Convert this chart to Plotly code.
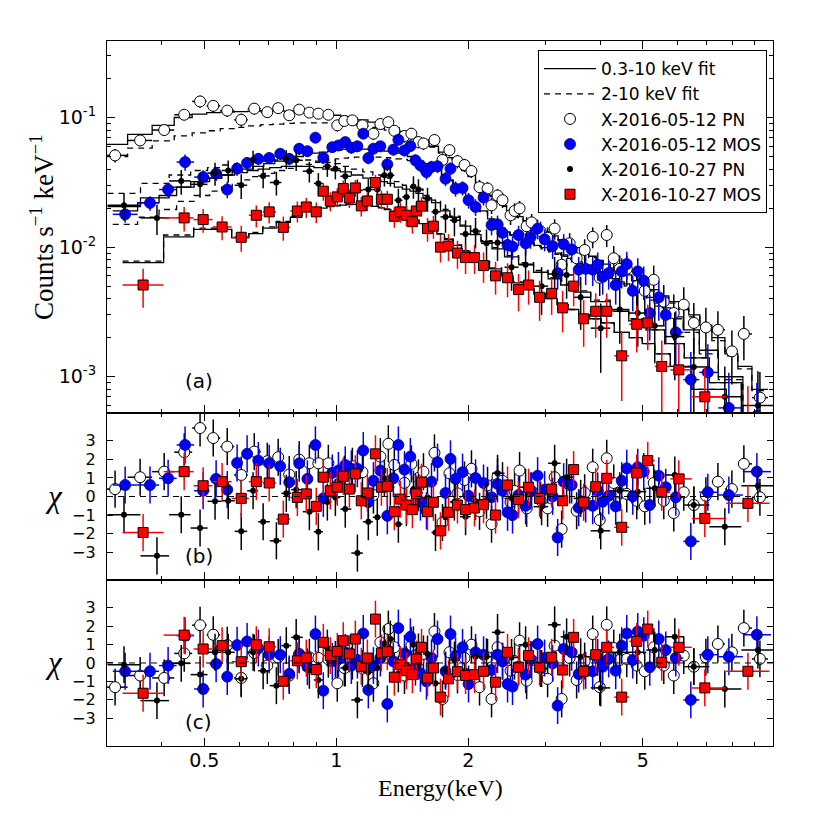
import numpy as np
import plotly.graph_objects as go
from plotly.subplots import make_subplots

# ---------------- data ----------------
# X-2016-05-12 PN (open circles)
pn05_E = [0.313,0.357,0.405,0.450,0.489,0.524,0.564,0.607,0.650,0.696,0.737,0.781,0.823,0.868,0.910,0.959,1.005,1.043,1.088,1.147,
          1.215,1.260,1.314,1.356,1.430,1.483,1.539,1.580,1.674,1.746,1.811,1.889,1.960,2.033,2.121,2.212,2.259,2.331,2.393,2.496,
          2.549,2.617,2.716,2.788,2.923,3.032,3.146,3.264,3.404,3.531,3.683,3.842,3.986,4.135,4.290,4.428,4.594,4.841,5.049,5.293,
          5.579,5.880,6.197,6.533,6.960,7.413,7.978,8.496,9.243]
pn05_F = [0.051,0.0665,0.080,0.105,0.133,0.123,0.113,0.096,0.117,0.110,0.118,0.104,0.115,0.109,0.107,0.105,0.087,0.094,0.095,0.087,
          0.075,0.089,0.092,0.079,0.072,0.075,0.0646,0.063,0.067,0.047,0.056,0.046,0.043,0.0386,0.029,0.0283,0.021,0.025,0.023,0.0176,
          0.0190,0.0199,0.0145,0.0155,0.0132,0.0118,0.0139,0.0073,0.0107,0.0082,0.0095,0.012,0.0058,0.0124,0.0082,0.0068,0.0068,0.0050,0.0046,0.0056,
          0.0038,0.0031,0.0036,0.0026,0.0024,0.0023,0.00157,0.00214,0.00069]
pn05_dF = [0.006,0.0065,0.007,0.010,0.014,0.013,0.012,0.011,0.012,0.011,0.011,0.010,0.010,0.010,0.010,0.010,0.009,0.009,0.009,0.009,
           0.008,0.009,0.009,0.008,0.008,0.008,0.007,0.007,0.007,0.006,0.006,0.0055,0.005,0.0045,0.004,0.0035,0.003,0.003,0.003,0.0028,
           0.0028,0.0028,0.0025,0.0025,0.0025,0.0024,0.0025,0.0019,0.0021,0.0019,0.0020,0.0022,0.0016,0.0024,0.0020,0.0018,0.0018,0.0015,0.0015,0.0016,
           0.0013,0.0012,0.0013,0.0011,0.0010,0.0009,0.0007,0.0008,0.0004]
pn05_M1 = [0.062,0.074,0.087,0.100,0.106,0.109,0.110,0.111,0.112,0.113,0.113,0.112,0.111,0.110,0.108,0.106,0.104,0.102,0.099,0.096,
           0.092,0.089,0.086,0.083,0.078,0.074,0.070,0.067,0.060,0.054,0.049,0.044,0.040,0.036,0.031,0.027,0.025,0.023,0.021,0.0190,
           0.0182,0.0172,0.0160,0.0152,0.0140,0.0131,0.0122,0.0114,0.0106,0.0099,0.0092,0.0085,0.0079,0.0074,0.0069,0.0065,0.0061,0.0055,0.0051,0.0047,
           0.0042,0.0038,0.0034,0.0030,0.0025,0.0020,0.0015,0.0012,0.0008]
pn05_M2 = [0.050,0.058,0.066,0.072,0.076,0.079,0.082,0.084,0.086,0.088,0.089,0.090,0.091,0.091,0.091,0.091,0.090,0.089,0.088,0.086,
           0.084,0.082,0.080,0.078,0.075,0.072,0.069,0.066,0.059,0.053,0.048,0.043,0.039,0.035,0.030,0.0265,0.0245,0.0225,0.0206,0.0186,
           0.0178,0.0169,0.0157,0.0149,0.0137,0.0128,0.0120,0.0112,0.0104,0.0097,0.0090,0.0083,0.0078,0.0073,0.0068,0.0064,0.0060,0.0054,0.0050,0.0046,
           0.0041,0.0037,0.0033,0.0029,0.0024,0.0019,0.00145,0.00115,0.00078]
pn05_Rb = [0.4,1.04,1.34,2.39,3.69,3.15,2.69,1.16,2.42,1.9,2.12,1.18,1.99,1.79,1.79,1.79,0.6,1.2,1.63,1.31,
           0.08,2.15,2.84,1.7,0.73,1.76,1.0,1.34,2.35,-1.4,1.25,0.17,0.89,1.49,-0.8,0.6,-1.49,1.07,0.85,-0.3,
           0.3,1.4,-0.64,0.3,-0.2,-0.64,1.04,-1.76,0.62,-0.77,0.2,1.58,-1.27,2.06,0.73,0.2,0.14,-0.23,-0.53,0.73,
           -0.23,-0.89,0.23,-0.46,0.04,0.8,0.4,1.76,-0.04]
pn05_Rc = [-1.31,-0.68,-0.81,0.52,2.05,1.53,0.97,-0.81,0.54,-0.14,0.3,-0.68,0.49,0.31,0.27,0.2,-1.1,-0.27,0.1,-0.3,
           -1.1,1.12,1.84,0.85,-0.68,0.94,0.1,0.49,1.71,-1.95,0.58,-0.65,0.27,0.99,-1.31,0.3,-1.95,0.85,0.1,-0.42,
           0.1,1.21,-0.96,0.16,-0.3,-0.86,0.94,-1.95,0.27,-0.92,0.1,1.57,-1.31,2.07,0.81,0.16,0.22,-0.14,-0.45,0.85,
           -0.14,-0.68,0.4,-0.2,0.31,1.03,0.58,1.89,0.22]

# X-2016-05-12 MOS (blue circles)
mos05_E = [0.330,0.376,0.4135,0.452,0.497,0.532,0.564,0.594,0.626,0.664,0.703,0.745,0.781,0.823,0.859,0.896,0.934,0.979,1.011,1.048,
           1.082,1.117,1.152,1.183,1.215,1.260,1.307,1.349,1.385,1.430,1.475,1.515,1.555,1.605,1.648,1.701,1.774,1.821,1.870,1.940,
           2.002,2.077,2.166,2.259,2.331,2.393,2.457,2.522,2.603,2.701,2.773,2.877,2.985,3.113,3.196,3.299,3.440,3.569,3.703,3.842,
           3.944,4.049,4.178,4.335,4.474,4.594,4.741,4.867,5.023,5.184,5.435,5.638,5.943,6.431,7.031,7.852,9.097]
mos05_F = [0.0179,0.0219,0.0278,0.0453,0.0347,0.0369,0.0278,0.0403,0.0446,0.0480,0.0487,0.0525,0.0480,0.0574,0.0550,0.0699,0.0490,0.0590,0.0609,0.0646,
           0.0585,0.0600,0.0750,0.0487,0.0574,0.0600,0.0435,0.0565,0.0673,0.0557,0.0602,0.0467,0.0427,0.0379,0.0415,0.0420,0.0337,0.0403,0.0283,0.0286,
           0.0230,0.0204,0.0241,0.0148,0.0150,0.0129,0.0104,0.0101,0.0124,0.0107,0.0119,0.0139,0.0115,0.0102,0.0063,0.0105,0.0096,0.0067,0.0068,0.0067,
           0.0073,0.0059,0.0063,0.0051,0.0065,0.0074,0.0046,0.0065,0.0055,0.0031,0.0041,0.0030,0.0022,0.00095,0.00108,0.000575,0.00050]
mos05_dF = [0.0025,0.0028,0.0035,0.0065,0.0045,0.0045,0.0040,0.0048,0.0050,0.0052,0.0052,0.0055,0.0052,0.0058,0.0056,0.0068,0.0052,0.0058,0.0060,0.0062,
            0.0058,0.0060,0.0070,0.0052,0.0058,0.0060,0.0050,0.0058,0.0065,0.0057,0.0060,0.0052,0.0050,0.0047,0.0048,0.0048,0.0042,0.0046,0.0038,0.0036,
            0.0032,0.0030,0.0032,0.0025,0.0025,0.0023,0.0021,0.0021,0.0022,0.0021,0.0022,0.0024,0.0022,0.0021,0.0016,0.0021,0.0020,0.0017,0.0017,0.0017,
            0.0018,0.0016,0.0016,0.0015,0.0017,0.0018,0.0014,0.0017,0.0016,0.0012,0.0014,0.0012,0.0010,0.0006,0.0007,0.0005,0.0004]
mos05_M1 = [0.019,0.022,0.025,0.029,0.032,0.034,0.036,0.038,0.040,0.042,0.044,0.046,0.048,0.050,0.052,0.053,0.054,0.055,0.056,0.057,
            0.057,0.057,0.057,0.057,0.057,0.056,0.055,0.054,0.053,0.052,0.050,0.048,0.046,0.044,0.042,0.040,0.036,0.033,0.030,0.027,
            0.024,0.021,0.019,0.0165,0.0150,0.0140,0.0131,0.0125,0.0118,0.0112,0.0108,0.0103,0.0099,0.0094,0.0090,0.0087,0.0082,0.0077,0.0073,0.0069,
            0.0066,0.0063,0.0060,0.0057,0.0054,0.0052,0.0049,0.0047,0.0044,0.0041,0.0037,0.0034,0.0029,0.0023,0.0016,0.0010,0.00045]
mos05_M2 = [0.0150,0.0170,0.0195,0.0225,0.0250,0.0270,0.0290,0.0310,0.0330,0.0350,0.0370,0.0390,0.0405,0.0420,0.0435,0.0450,0.0460,0.0470,0.0480,0.0485,
            0.0490,0.0495,0.0495,0.0495,0.0495,0.0495,0.0490,0.0485,0.0480,0.0475,0.0465,0.0455,0.0440,0.0425,0.0410,0.0395,0.0355,0.0325,0.0297,0.0267,
            0.0238,0.0208,0.0188,0.0163,0.0148,0.0138,0.0129,0.0123,0.0116,0.0110,0.0106,0.0101,0.0097,0.0092,0.0088,0.0085,0.0080,0.0075,0.0071,0.0067,
            0.0064,0.0061,0.0058,0.0055,0.0052,0.0050,0.0047,0.0045,0.0042,0.0039,0.0035,0.0032,0.0028,0.0022,0.0015,0.00095,0.00043]
mos05_Rb = [0.62,0.62,0.98,2.78,0.31,0.95,0.37,1.81,2.3,1.94,1.79,1.63,0.77,1.79,0.95,2.78,-0.1,1.27,1.4,1.7,
            1.49,1.5,2.48,-0.3,0.85,1.4,-1.04,0.98,2.78,1.45,2.15,0.23,-0.3,-0.77,0.8,1.85,0.19,2.03,0.95,1.31,
            0.04,1.0,0.73,-0.04,0.68,0.31,-0.85,-1.0,0.08,-0.5,0.3,1.12,0.37,0.01,-2.21,0.8,0.62,-0.6,-0.4,-0.5,
            0.3,-0.28,0.04,-0.53,0.85,1.52,0.01,1.58,1.34,-0.46,1.12,0.5,-0.04,-2.42,0.23,0.08,1.34]
mos05_Rc = [-0.45,-0.45,-0.14,1.48,-1.41,-0.05,-0.74,0.97,1.17,0.81,0.45,0.45,-0.59,0.45,-0.2,1.57,-1.5,0.09,0.22,0.58,
            -0.14,0.16,1.6,-1.46,-0.14,0.27,-2.22,0.09,1.89,0.52,1.42,-0.23,-0.56,-0.99,0.27,1.3,-0.45,1.57,0.4,0.85,
            -1.14,0.58,0.45,-0.38,0.45,0.09,-1.14,-1.28,-0.2,-0.63,0.2,1.03,0.27,-0.02,-2.31,0.76,0.58,-0.6,-0.4,-0.45,
            0.3,-0.2,0.22,-0.42,0.94,1.6,0.16,1.71,1.48,-0.23,1.3,0.7,0.27,-2.0,0.45,0.34,1.53]

# X-2016-10-27 PN (small black dots)
pn10_E = [0.328,0.390,0.443,0.489,0.529,0.567,0.607,0.646,0.681,0.730,0.769,0.810,0.868,0.910,0.954,0.995,1.048,1.117,1.183,1.240,
          1.287,1.328,1.385,1.445,1.499,1.539,1.614,1.683,1.774,1.859,1.971,2.077,2.200,2.331,2.509,2.701,2.938,3.146,3.350,3.607,
          4.007,4.428,4.867,5.321,5.912,6.533,7.688,9.146]
pn10_F = [0.0210,0.0168,0.0324,0.0305,0.0373,0.0390,0.0300,0.0475,0.0354,0.0315,0.0480,0.0467,0.0385,0.0310,0.0420,0.0403,0.0352,0.0274,0.0278,0.0278,
          0.0358,0.0358,0.0230,0.0244,0.0294,0.0278,0.0237,0.0187,0.0171,0.0161,0.0126,0.0133,0.0107,0.0108,0.0070,0.0073,0.0050,0.0062,0.0061,0.0041,
          0.00237,0.0033,0.0031,0.00247,0.00204,0.00119,0.00070,0.00060]
pn10_dF = [0.0050,0.0044,0.0070,0.0065,0.0075,0.0075,0.0065,0.0080,0.0070,0.0065,0.0080,0.0080,0.0070,0.0062,0.0072,0.0070,0.0065,0.0058,0.0058,0.0058,
           0.0065,0.0065,0.0052,0.0054,0.0058,0.0056,0.0050,0.0045,0.0042,0.0040,0.0035,0.0035,0.0030,0.0030,0.0024,0.0024,0.0020,0.0022,0.0021,0.0018,
           0.0013,0.0015,0.0014,0.0012,0.0011,0.0008,0.0005,0.0005]
pn10_M1 = [0.0205,0.024,0.029,0.032,0.034,0.036,0.0375,0.039,0.040,0.041,0.042,0.042,0.042,0.041,0.040,0.039,0.038,0.036,0.034,0.033,
           0.032,0.031,0.029,0.028,0.027,0.026,0.024,0.022,0.019,0.017,0.0145,0.0125,0.0110,0.0097,0.0084,0.0074,0.0064,0.0057,0.0051,0.0045,
           0.0038,0.0032,0.0027,0.0023,0.0018,0.0014,0.0009,0.0005]
pn10_M2 = [0.026,0.031,0.036,0.039,0.041,0.043,0.044,0.045,0.046,0.047,0.047,0.047,0.047,0.046,0.045,0.044,0.042,0.040,0.038,0.036,
           0.035,0.034,0.032,0.030,0.029,0.028,0.025,0.023,0.0195,0.0173,0.0148,0.0128,0.0112,0.0099,0.0086,0.0076,0.0066,0.0058,0.0052,0.0046,
           0.0039,0.0033,0.0028,0.0023,0.0018,0.0014,0.0009,0.0005]
pn10_Rb = [-0.98,-3.2,-0.98,-1.7,-0.26,-0.23,-1.88,0.31,-1.36,-2.39,0.17,0.37,-0.82,-1.9,-0.3,-0.05,-0.68,-3.05,-1.36,-1.12,
           0.98,0.5,-1.49,-0.6,0.4,0.2,-0.05,-1.94,-1.12,-0.3,-1.09,-0.26,-0.2,1.25,-0.1,0.5,-0.55,1.79,1.04,-0.1,
           -1.85,0.31,0.26,0.44,1.16,-0.46,-1.63,0.58]
pn10_Rc = [-0.09,-2.04,-0.02,-0.63,0.58,0.58,-0.86,0.58,-0.42,-1.23,0.94,1.39,-0.4,-0.92,0.81,0.2,-0.27,-2.0,-0.5,-0.27,
           1.06,1.3,-0.59,-0.09,0.99,0.6,0.49,-1.1,-0.38,0.16,-0.42,0.34,0.34,1.66,0.3,0.99,-0.3,2.07,1.42,0.34,
           -1.35,0.58,0.58,0.7,1.42,-0.2,-1.41,0.7]

# X-2016-10-27 MOS (red squares)
mos10_E = [0.3626,0.4498,0.497,0.549,0.607,0.657,0.703,0.757,0.815,0.854,0.900,0.934,0.969,1.005,1.037,1.071,1.105,1.140,1.177,1.228,
           1.267,1.307,1.356,1.400,1.445,1.491,1.522,1.564,1.614,1.665,1.728,1.802,1.889,1.971,2.066,2.166,2.307,2.457,2.603,2.744,
           2.907,3.097,3.281,3.476,3.664,3.903,4.135,4.474,4.841,5.129,5.521,6.037,6.921,8.678]
mos10_F = [0.0051,0.0168,0.0163,0.0143,0.0119,0.0176,0.0187,0.0142,0.0190,0.0204,0.0187,0.0270,0.0227,0.0244,0.0283,0.0239,0.0286,0.0208,0.0227,0.0315,
           0.0234,0.0234,0.0173,0.0187,0.0176,0.0157,0.0190,0.0207,0.0139,0.0145,0.0100,0.0102,0.0090,0.0083,0.0083,0.0072,0.0060,0.0058,0.0047,0.0051,
           0.0041,0.0044,0.0034,0.0050,0.0028,0.0032,0.0032,0.00145,0.00254,0.0026,0.0012,0.00113,0.0007,0.00045]
mos10_dF = [0.0017,0.0036,0.0034,0.0030,0.0027,0.0034,0.0035,0.0030,0.0035,0.0036,0.0034,0.0042,0.0038,0.0040,0.0043,0.0039,0.0043,0.0036,0.0038,0.0046,
            0.0038,0.0038,0.0032,0.0033,0.0032,0.0030,0.0034,0.0035,0.0029,0.0029,0.0024,0.0024,0.0022,0.0021,0.0021,0.0019,0.0017,0.0017,0.0015,0.0015,
            0.0014,0.0014,0.0012,0.0015,0.0011,0.0012,0.0012,0.0008,0.0010,0.0010,0.0007,0.0007,0.0005,0.0004]
mos10_M1 = [0.0076,0.0120,0.0137,0.0137,0.0118,0.0127,0.0140,0.0155,0.0170,0.0188,0.0196,0.0200,0.0205,0.0208,0.0211,0.0213,0.0214,0.0213,0.0211,0.0206,
            0.0201,0.0195,0.0188,0.0181,0.0174,0.0166,0.0160,0.0152,0.0144,0.0135,0.0126,0.0115,0.0103,0.0093,0.0084,0.0077,0.0068,0.0060,0.0053,0.0048,
            0.0043,0.0040,0.0036,0.0033,0.0030,0.0028,0.0026,0.0022,0.0020,0.0018,0.0015,0.0012,0.0008,0.0004]
mos10_M2 = [0.0078,0.0124,0.0140,0.0140,0.0120,0.0130,0.0143,0.0158,0.0173,0.0190,0.0198,0.0202,0.0207,0.0210,0.0213,0.0215,0.0216,0.0215,0.0213,0.0208,
            0.0203,0.0197,0.0190,0.0183,0.0176,0.0168,0.0162,0.0154,0.0146,0.0137,0.0127,0.0116,0.0104,0.0094,0.0085,0.0078,0.0069,0.0061,0.0054,0.0049,
            0.0044,0.0040,0.0036,0.0033,0.0030,0.0028,0.0026,0.0022,0.0020,0.0018,0.0015,0.0012,0.0008,0.0004]
mos10_Rb = [-1.94,1.34,0.58,0.8,-0.1,0.8,0.73,-1.22,-0.05,0.14,-0.53,1.04,0.31,0.5,1.09,0.4,1.22,-0.23,0.19,2.3,
            0.5,0.55,-0.82,-0.14,-0.46,-0.71,0.14,0.77,-0.82,-0.31,-1.85,-0.85,-0.46,-0.71,-0.62,-0.44,-1.0,0.62,-0.17,0.5,
            -0.1,0.4,-0.23,1.45,-0.31,0.53,0.98,-1.66,1.27,1.94,0.23,0.95,-1.18,-0.37]
mos10_Rc = [-1.64,1.51,0.76,0.94,0.07,0.99,0.88,-0.99,0.12,0.27,-0.36,1.12,0.4,0.63,1.21,0.49,1.3,-0.18,0.27,2.38,
            0.54,0.61,-0.77,-0.09,-0.42,-0.63,0.22,0.85,-0.81,-0.27,-1.85,-0.86,-0.47,-0.68,-0.63,-0.45,-1.04,0.58,-0.23,0.4,
            -0.23,0.31,-0.38,1.39,-0.45,0.45,0.85,-1.85,1.17,1.84,0.04,0.85,-1.35,-0.45]

CHI_ERR = 1.0  # residual error bars are one sigma by definition

x_major = [0.5, 1, 2, 5]
x_major_text = ["0.5", "1", "2", "5"]
x_minor = [0.4, 0.6, 0.7, 0.8, 0.9, 3, 4, 6, 7, 8, 9]
y_major = [1e-3, 1e-2, 1e-1]
y_major_text = ["10<sup>-3</sup>", "10<sup>-2</sup>", "10<sup>-1</sup>"]
y_minor = [6e-4, 7e-4, 8e-4, 9e-4, 2e-3, 3e-3, 4e-3, 5e-3, 6e-3, 7e-3, 8e-3, 9e-3,
           2e-2, 3e-2, 4e-2, 5e-2, 6e-2, 7e-2, 8e-2, 9e-2, 2e-1, 3e-1]
chi_ticks = [-3, -2, -1, 0, 1, 2, 3]
chi_text = ["\u22123", "\u22122", "\u22121", "0", "1", "2", "3"]

# ---------------- figure ----------------
fig = make_subplots(rows=3, cols=1, shared_xaxes=True, vertical_spacing=0,
                    row_heights=[0.5277, 0.2368, 0.2355])


def bin_edges(E):
    E = np.asarray(E, float)
    mid = np.sqrt(E[:-1] * E[1:])
    lo = np.concatenate([[E[0] ** 2 / mid[0]], mid])
    hi = np.concatenate([mid, [E[-1] ** 2 / mid[-1]]])
    return lo, hi


series = [
    dict(name="X-2016-05-12 PN", E=pn05_E, F=pn05_F, dF=pn05_dF, M1=pn05_M1, M2=pn05_M2, Rb=pn05_Rb, Rc=pn05_Rc,
         color="black", marker=dict(symbol="circle", size=11, color="white", line=dict(color="black", width=1)), rank=3),
    dict(name="X-2016-05-12 MOS", E=mos05_E, F=mos05_F, dF=mos05_dF, M1=mos05_M1, M2=mos05_M2, Rb=mos05_Rb, Rc=mos05_Rc,
         color="#0000ff", marker=dict(symbol="circle", size=11, color="#0000ff", line=dict(color="#00007a", width=0.8)), rank=4),
    dict(name="X-2016-10-27 PN", E=pn10_E, F=pn10_F, dF=pn10_dF, M1=pn10_M1, M2=pn10_M2, Rb=pn10_Rb, Rc=pn10_Rc,
         color="black", marker=dict(symbol="circle", size=6, color="black", line=dict(color="black", width=0)), rank=5),
    dict(name="X-2016-10-27 MOS", E=mos10_E, F=mos10_F, dF=mos10_dF, M1=mos10_M1, M2=mos10_M2, Rb=mos10_Rb, Rc=mos10_Rc,
         color="#ff0000", marker=dict(symbol="square", size=10, color="#ff0000", line=dict(color="black", width=1)), rank=6),
]

# model step lines first
first_solid, first_dash = True, True
for s in series:
    lo, hi = bin_edges(s["E"])
    xs = list(lo) + [hi[-1]]
    for key, dash in (("M1", "solid"), ("M2", "6px,5px")):
        ys = list(s[key]) + [s[key][-1]]
        show = (first_solid if key == "M1" else first_dash)
        fig.add_trace(go.Scatter(x=xs, y=ys, mode="lines", line_shape="hv",
                                 line=dict(color="black", width=1.3, dash=dash),
                                 name="0.3-10 keV fit" if key == "M1" else "2-10 keV fit",
                                 showlegend=show, legendrank=1 if key == "M1" else 2,
                                 hoverinfo="skip"), row=1, col=1)
        if key == "M1":
            first_solid = False
        else:
            first_dash = False

# data points
for s in series:
    E = np.asarray(s["E"])
    lo, hi = bin_edges(E)
    ex = dict(type="data", symmetric=False, array=hi - E, arrayminus=E - lo,
              color=s["color"], thickness=1.5, width=0)
    fig.add_trace(go.Scatter(x=E, y=s["F"], mode="markers", name=s["name"], legendrank=s["rank"],
                             marker=s["marker"],
                             error_y=dict(type="data", array=s["dF"], color=s["color"], thickness=1.5, width=0),
                             error_x=ex), row=1, col=1)
    for row, key in ((2, "Rb"), (3, "Rc")):
        fig.add_trace(go.Scatter(x=E, y=s[key], mode="markers", name=s["name"], showlegend=False,
                                 marker=s["marker"],
                                 error_y=dict(type="constant", value=CHI_ERR, color=s["color"], thickness=1.5, width=0),
                                 error_x=ex), row=row, col=1)

for row in (2, 3):
    fig.add_hline(y=0, line=dict(color="black", width=1, dash="6px,5px"), row=row, col=1)

tickfont = dict(family="DejaVu Sans", size=19, color="black")
chifont = dict(family="DejaVu Sans", size=16, color="black")
common_x = dict(type="log", range=[np.log10(0.3), np.log10(9.9)], showline=True, linecolor="black",
                linewidth=1.2, mirror="ticks", ticks="inside", ticklen=8, tickwidth=1, tickcolor="black",
                tickvals=x_major, ticktext=x_major_text, showgrid=False, zeroline=False, tickfont=tickfont,
                minor=dict(tickvals=x_minor, ticks="inside", ticklen=4, tickwidth=1, tickcolor="black", showgrid=False))
fig.update_xaxes(**common_x)
fig.update_xaxes(showticklabels=False, row=1, col=1)
fig.update_xaxes(showticklabels=False, row=2, col=1)
fig.update_xaxes(ticklabelstandoff=-3, row=3, col=1)

fig.update_yaxes(type="log", range=[-3.28, -0.41], showline=True, linecolor="black", linewidth=1.2,
                 mirror="ticks", ticks="inside", ticklen=8, tickwidth=1, tickcolor="black",
                 tickvals=y_major, ticktext=y_major_text, showgrid=False, zeroline=False, tickfont=tickfont,
                 ticklabelstandoff=6,
                 minor=dict(tickvals=y_minor, ticks="inside", ticklen=4, tickwidth=1, tickcolor="black", showgrid=False),
                 row=1, col=1)
for row in (2, 3):
    fig.update_yaxes(range=[-4.5, 4.5], showline=True, linecolor="black", linewidth=1.2,
                     mirror="ticks", ticks="inside", ticklen=6, tickwidth=1, tickcolor="black",
                     tickvals=chi_ticks, ticktext=chi_text, showgrid=False, zeroline=False, tickfont=chifont,
                     ticklabelstandoff=7, row=row, col=1)

serif = "Liberation Serif"
ann_common = dict(showarrow=False, xanchor="center", yanchor="middle")
annots = [
    dict(text="Counts s<sup>\u22121</sup> keV<sup>\u22121</sup>", x=-0.0976, y=0.736, xref="paper", yref="paper",
         textangle=-90, font=dict(family=serif, size=27, color="black"), **ann_common),
    dict(text="<i>\u03c7</i>", x=-0.0796, y=0.354, xref="paper", yref="paper",
         font=dict(family=serif, size=31, color="black"), **ann_common),
    dict(text="<i>\u03c7</i>", x=-0.0796, y=0.118, xref="paper", yref="paper",
         font=dict(family=serif, size=31, color="black"), **ann_common),
    dict(text="Energy(keV)", x=0.5, y=-0.0596, xref="paper", yref="paper",
         font=dict(family=serif, size=24, color="black"), **ann_common),
    dict(text="(a)", x=0.138, y=0.086, xref="x domain", yref="y domain",
         font=dict(family="DejaVu Sans", size=20, color="black"), **ann_common),
    dict(text="(b)", x=0.138, y=0.144, xref="x2 domain", yref="y2 domain",
         font=dict(family="DejaVu Sans", size=20, color="black"), **ann_common),
    dict(text="(c)", x=0.138, y=0.145, xref="x3 domain", yref="y3 domain",
         font=dict(family="DejaVu Sans", size=20, color="black"), **ann_common),
]

# the page body adds an 8 px offset, so the figure is 822 px and margins are reduced accordingly
fig.update_layout(
    width=822, height=822,
    margin=dict(l=99, r=57, t=33, b=84),
    plot_bgcolor="white", paper_bgcolor="white",
    annotations=annots,
    legend=dict(x=0.991, y=0.987, xanchor="right", yanchor="top", bgcolor="white",
                bordercolor="black", borderwidth=1, font=dict(family="DejaVu Sans", size=17, color="black"),
                itemwidth=52, tracegroupgap=0),
    showlegend=True,
)

fig.write_html("out.html")
